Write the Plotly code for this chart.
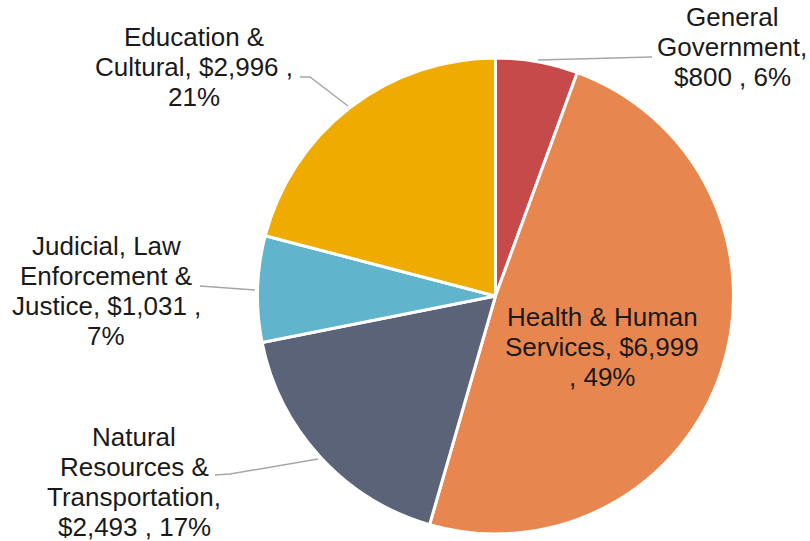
import plotly.graph_objects as go

W, H = 810, 541

labels = ["General Government", "Health & Human Services", "Natural Resources & Transportation",
          "Judicial, Law Enforcement & Justice", "Education & Cultural"]
values = [800, 6999, 2493, 1031, 2996]
colors = ["#C64A4A", "#E8864F", "#5A6378", "#60B4CC", "#F0AB00"]

# wrapped label lines (display only); value/percent appended from data
label_lines = [
    ["General", "Government,"],
    ["Health & Human", "Services,"],
    ["Natural", "Resources &", "Transportation,"],
    ["Judicial, Law", "Enforcement &", "Justice,"],
    ["Education &", "Cultural,"],
]

total = sum(values)
pcts = [round(v / total * 100) for v in values]


def px(x, y):
    """screen pixel -> paper coords"""
    return x / W, 1 - y / H


def make_lines(i):
    L = label_lines[i]
    v = f"${values[i]:,}"
    p = f"{pcts[i]}%"
    if i == 0:
        return L + [f"{v} , {p}"]
    if i == 1:
        return [L[0], f"{L[1]} {v}", f", {p}"]
    if i == 2:
        return L + [f"{v} , {p}"]
    if i == 3:
        return [L[0], L[1], f"{L[2]} {v} ,", p]
    return [L[0], f"{L[1]} {v} ,", p]


cx, cy, r = 495.5, 296, 238
fig = go.Figure(go.Pie(
    labels=labels, values=values, sort=False, direction="clockwise", rotation=0,
    marker=dict(colors=colors, line=dict(color="white", width=3)),
    textinfo="none", hoverinfo="label+value+percent", showlegend=False,
    domain=dict(x=[(cx - r) / W, (cx + r) / W],
                y=[1 - (cy + r) / H, 1 - (cy - r) / H]),
))

# label layout: center x and first line center y (screen px), line spacing 30
label_pos = [(732, 17), (602, 317), (134, 437), (106, 246), (194, 37)]
LS = 30
annotations = []
for i, (x, y0) in enumerate(label_pos):
    for k, line in enumerate(make_lines(i)):
        ax_, ay_ = px(x, y0 + k * LS)
        annotations.append(dict(x=ax_, y=ay_, xref="paper", yref="paper", text=line,
                                showarrow=False, xanchor="center", yanchor="middle",
                                align="center",
                                font=dict(family="Liberation Sans, Arial", size=26, color="#1a1a1a")))

leaders = [
    [(538, 60), (652, 57)],
    [(215, 475), (230, 474), (318, 459)],
    [(200, 286), (255, 290)],
    [(300, 77), (310, 77), (348, 106)],
]
shapes = []
for pts in leaders:
    path = ""
    for k, (x, y) in enumerate(pts):
        xx, yy = px(x, y)
        path += ("M" if k == 0 else " L") + f"{xx},{yy}"
    shapes.append(dict(type="path", xref="paper", yref="paper", path=path,
                       line=dict(color="#A6A6A6", width=1.5)))

fig.update_layout(width=W, height=H, margin=dict(l=0, r=0, t=0, b=0),
                  paper_bgcolor="white", plot_bgcolor="white",
                  annotations=annotations, shapes=shapes)
fig.write_html("out.html", config={"displayModeBar": False},
               post_script="document.body.style.margin='0';document.body.style.overflow='hidden';")
